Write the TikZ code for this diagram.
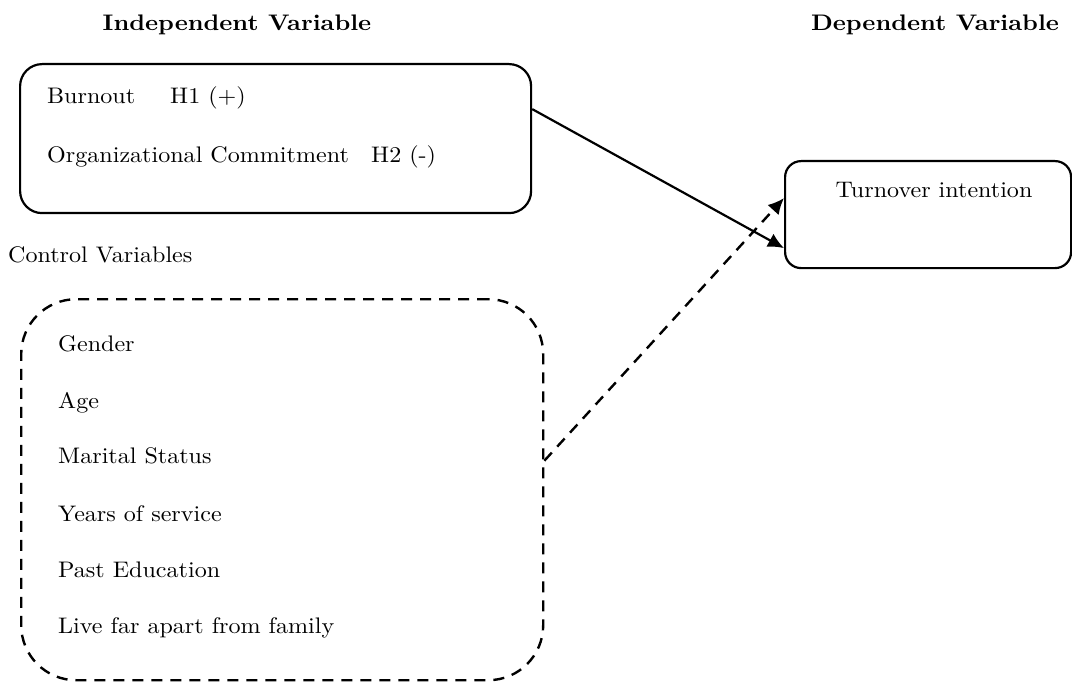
\documentclass[tikz,border=0pt]{standalone}
\usepackage{fontspec}
\setmainfont{lmroman10-regular.otf}[FakeStretch=1.07,BoldFont=lmroman10-bold.otf,BoldFeatures={FakeStretch=1.1}]
\usetikzlibrary{arrows.meta}
\begin{document}
\begin{tikzpicture}[x=1pt,y=-1pt,
  txt/.style={inner sep=0pt,anchor=base west,font=\fontsize{22.5}{26}\selectfont},
  ttl/.style={inner sep=0pt,anchor=base,font=\fontsize{22.5}{26}\selectfont\bfseries},
  solidbox/.style={draw,line width=2.2pt,rounded corners=22pt,inner sep=0pt},
  dashbox/.style={draw,line width=2.4pt,rounded corners=55pt,inner sep=0pt,dash pattern=on 11pt off 8pt},
  arr/.style={line width=2.2pt,-{Latex[length=16pt,width=15pt]}}]
\useasboundingbox (0,0) rectangle (1072,682);
% titles
\node[ttl] (iv) at (237,31) {Independent Variable};
\node[ttl] (dv) at (935,31) {Dependent Variable};
% independent box
\node[solidbox,minimum width=511pt,minimum height=149pt,anchor=north west] (b1) at (19,63) {};
\node[txt] (burn) at (47,104) {Burnout};
\node[txt] (h1) at (170,104) {H1 (+)};
\node[txt] (oc) at (47,163) {Organizational Commitment};
\node[txt] (h2) at (371,163) {H2 (-)};
% dependent box
\node[solidbox,rounded corners=16pt,minimum width=286pt,minimum height=107pt,anchor=north west] (b2) at (784,160) {};
\node[txt,anchor=base] (ti) at (934,198) {Turnover intention};
% control variables
\node[txt] (cv) at (8,262) {Control Variables};
\node[dashbox,minimum width=522pt,minimum height=381pt,anchor=north west] (b3) at (20,298) {};
\node[txt] (g) at (58,351) {Gender};
\node[txt] (a) at (58,408) {Age};
\node[txt] (m) at (58,463) {Marital Status};
\node[txt] (y) at (58,521) {Years of service};
\node[txt] (p) at (58,577) {Past Education};
\node[txt] (l) at (58,633) {Live far apart from family};
% connectors
\draw[arr] ([yshift=29.5pt]b1.east) -- ([yshift=-33.5pt]b2.west);
\draw[arr,line width=2.4pt,dash pattern=on 11pt off 8pt] ([yshift=29pt]b3.east) -- ([yshift=16.5pt]b2.west);
\end{tikzpicture}
\end{document}
